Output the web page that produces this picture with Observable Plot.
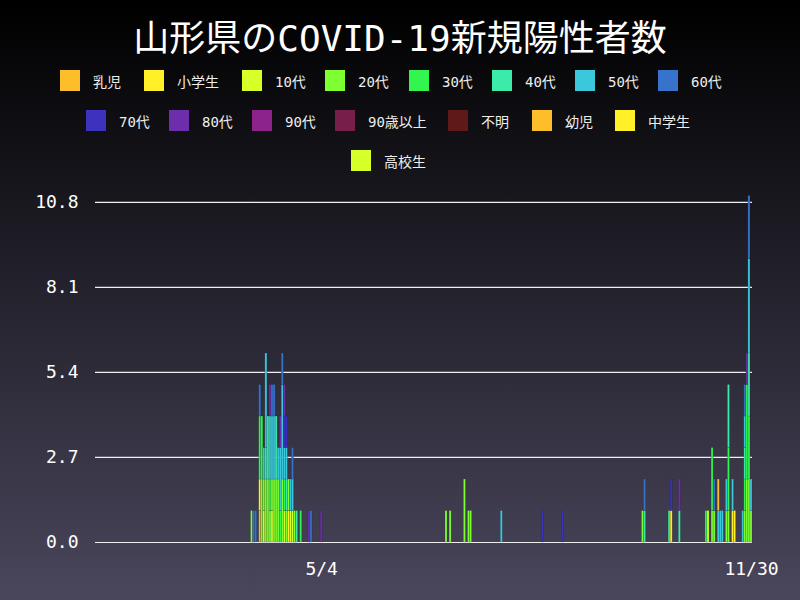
<!DOCTYPE html>
<html>
<head>
<meta charset="utf-8">
<script src="https://cdn.jsdelivr.net/npm/d3@7"></script>
<script src="https://cdn.jsdelivr.net/npm/@observablehq/plot@0.6"></script>
<style>
  html, body { margin: 0; padding: 0; }
  body {
    width: 800px; height: 600px; overflow: hidden;
    background: linear-gradient(to bottom, #000000 0%, #4a465c 100%);
    font-family: "DejaVu Sans Mono", "Noto Sans CJK JP", sans-serif;
    color: #fff;
  }
  #title {
    height: 60px; line-height: 78px; text-align: center;
    font-size: 36px; color: #fff; white-space: nowrap;
  }
  #legend { position: relative; height: 120px; width: 800px; }
  .item { position: absolute; height: 21px; display: flex; align-items: center; }
  .box { width: 20px; height: 21px; margin-right: 13px; }
  .lab { font-size: 14px; color: #eeeeee; white-space: nowrap; }
  #chart svg { display: block; background: transparent; }
</style>
</head>
<body>
<div id="title">山形県のCOVID-19新規陽性者数</div>
<div id="legend"></div>
<div id="chart"></div>
<script>
// categories in stacking / legend order
const categories = ["乳児","小学生","10代","20代","30代","40代","50代","60代","70代","80代","90代","90歳以上","不明","幼児","中学生","高校生"];
const colors = ["#fdbe2a","#fff028","#d7ff28","#7dff32","#32f550","#3cebaa","#3cc8dc","#3773cd","#3c32be","#6e2daa","#8c238c","#781e4b","#5f1919","#fdbe2a","#fff028","#d7ff28"];
// legend box positions (left x) per row
const legendRows = [
  [["乳児",60],["小学生",144],["10代",242],["20代",325],["30代",409],["40代",492],["50代",575],["60代",658]],
  [["70代",86],["80代",169],["90代",252],["90歳以上",335],["不明",448],["幼児",532],["中学生",615]],
  [["高校生",351]]
];

// daily cases: [date, category, count]
const wave1 = [
  ["3/31","20代",1],
  ["4/1","60代",1],
  ["4/2","60代",1],
  ["4/4","乳児",1],["4/4","小学生",1],["4/4","30代",2],["4/4","60代",1],
  ["4/5","20代",2],["4/5","30代",2],
  ["4/6","10代",1],["4/6","20代",1],["4/6","50代",1],
  ["4/7","20代",2],["4/7","40代",1],["4/7","50代",3],
  ["4/8","20代",2],["4/8","40代",2],
  ["4/9","20代",1],["4/9","30代",1],["4/9","50代",2],["4/9","80代",1],
  ["4/10","10代",1],["4/10","20代",1],["4/10","50代",2],["4/10","60代",1],
  ["4/11","20代",2],["4/11","50代",2],["4/11","60代",1],
  ["4/12","20代",2],["4/12","40代",2],
  ["4/13","20代",2],["4/13","50代",1],
  ["4/14","30代",1],["4/14","50代",2],["4/14","80代",1],
  ["4/15","20代",2],["4/15","50代",3],["4/15","60代",1],
  ["4/16","10代",1],["4/16","30代",1],["4/16","50代",1],["4/16","70代",1],["4/16","80代",1],
  ["4/17","20代",1],["4/17","40代",1],["4/17","50代",1],["4/17","70代",1],
  ["4/18","小学生",1],["4/18","20代",1],
  ["4/19","10代",1],["4/19","50代",1],
  ["4/20","10代",1],["4/20","50代",1],["4/20","60代",1],
  ["4/21","20代",1],
  ["4/22","40代",1],
  ["4/24","30代",1],
  ["4/28","80代",1],
  ["4/29","60代",1],
  ["5/4","80代",1]
];
const summer = [
  ["7/4","20代",1],["7/6","20代",1],["7/13","20代",2],["7/15","20代",1],["7/16","20代",1],
  ["7/31","50代",1],["8/20","70代",1],["8/30","70代",1]
];
const autumn = [
  ["10/8","20代",1],
  ["10/9","40代",1],["10/9","60代",1],
  ["10/21","40代",1],
  ["10/22","小学生",1],["10/22","70代",1],
  ["10/26","40代",1],["10/26","80代",1],
  ["11/8","30代",1],
  ["11/9","10代",1],
  ["11/11","20代",1],["11/11","30代",2],
  ["11/12","20代",1],["11/12","60代",1],
  ["11/14","50代",1],["11/14","幼児",1],
  ["11/15","50代",1],
  ["11/16","50代",1],
  ["11/18","20代",1],["11/18","50代",1],
  ["11/19","20代",1],["11/19","30代",2],["11/19","40代",2],
  ["11/21","小学生",1],["11/21","50代",1],
  ["11/22","中学生",1],
  ["11/26","50代",1],
  ["11/27","20代",1],["11/27","30代",1],["11/27","40代",1],["11/27","50代",1],["11/27","60代",1],
  ["11/28","20代",2],["11/28","30代",3],["11/28","80代",1],
  ["11/29","20代",2],["11/29","30代",2],["11/29","40代",2],["11/29","50代",3],["11/29","60代",2],
  ["11/30","20代",1],["11/30","50代",1]
];
const yTicks = [0, 2.7, 5.4, 8.1, 10.8];
const xTicks = ["5/4", "11/30"];
const startDate = "2020-01-15", endDate = "2020-11-30";

// all calendar days on the axis
const fmt = d => `${d.getUTCMonth() + 1}/${d.getUTCDate()}`;
const days = d3.utcDay.range(new Date(startDate), d3.utcDay.offset(new Date(endDate), 1)).map(fmt);

const rows = [...wave1, ...summer, ...autumn].map(([date, cat, n]) => ({date, cat, n}));

// legend
const legend = document.getElementById("legend");
legendRows.forEach((row, r) => {
  row.forEach(([name, left]) => {
    const it = document.createElement("div");
    it.className = "item";
    it.style.left = left + "px";
    it.style.top = (10 + r * 40) + "px";
    const b = document.createElement("div");
    b.className = "box";
    b.style.background = colors[categories.indexOf(name)];
    const t = document.createElement("span");
    t.className = "lab";
    t.textContent = name;
    it.append(b, t);
    legend.append(it);
  });
});

const chart = Plot.plot({
  width: 800,
  height: 420,
  marginTop: 15.5,
  marginBottom: 58,
  marginLeft: 95,
  marginRight: 48,
  style: {background: "transparent", color: "#fff", fontFamily: "DejaVu Sans Mono, Noto Sans CJK JP, sans-serif"},
  x: {type: "band", domain: days, paddingInner: 0, paddingOuter: 0, round: false},
  y: {domain: [0, 11]},
  color: {type: "ordinal", domain: categories, range: colors},
  marks: [
    Plot.ruleY(yTicks, {stroke: "#f0f0f0", strokeWidth: 1.2}),
    Plot.barY(rows, Plot.stackY({
      x: "date", y: "n", fill: "cat", z: "cat", order: categories,
      stroke: "#1a1a24", strokeOpacity: 0.35, strokeWidth: 0.5
    })),
    Plot.axisY({ticks: yTicks, tickFormat: d3.format(".1f"), tickSize: 0, tickPadding: 17, fontSize: 18, fill: "#fff", label: null}),
    Plot.axisX({ticks: xTicks, tickSize: 0, tickPadding: 20, fontSize: 18, fill: "#fff", label: null})
  ]
});
document.getElementById("chart").append(chart);
</script>
</body>
</html>
